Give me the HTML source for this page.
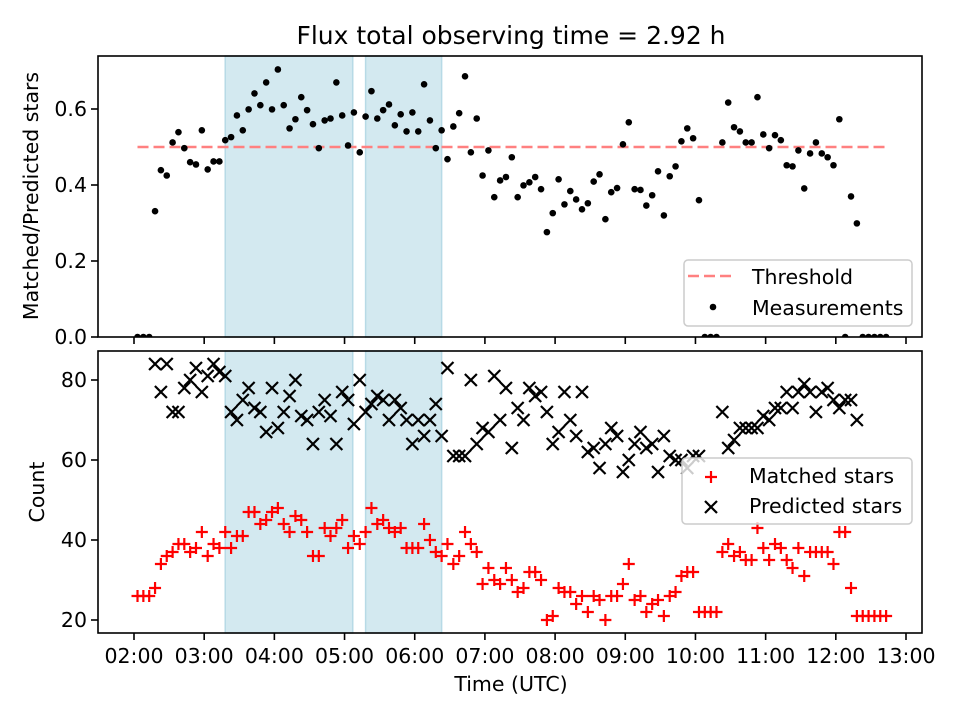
<!DOCTYPE html>
<html><head><meta charset="utf-8">
<style>
html,body{margin:0;padding:0;background:#fff;}
svg{display:block;font-family:"DejaVu Sans","Liberation Sans",sans-serif;}
</style></head>
<body>
<svg id="chart" width="960" height="720" viewBox="0 0 960 720" xmlns="http://www.w3.org/2000/svg">
<rect width="960" height="720" fill="#fff"/>
<text x="511" y="44" font-size="25" text-anchor="middle" fill="#000">Flux total observing time = 2.92 h</text>
<g id="top"></g>
<g id="bot"></g>
<text transform="translate(38,196) rotate(-90)" font-size="20.5" text-anchor="middle">Matched/Predicted stars</text>
<text transform="translate(44,492) rotate(-90)" font-size="20.5" text-anchor="middle">Count</text>
<text x="511" y="691" font-size="20.5" text-anchor="middle">Time (UTC)</text>
</svg>
<script>
const times = [123,128,133,138,143,148,153,158,163,168,173,178,183,188,193,198,203,208,213,218,223,228,233,238,243,248,253,258,263,268,273,278,283,288,293,298,303,308,313,318,323,328,333,338,343,348,353,358,363,368,373,378,383,388,393,398,403,408,413,418,423,428,433,438,443,448,453,458,463,468,473,478,483,488,493,498,503,508,513,518,523,528,533,538,543,548,553,558,563,568,573,578,583,588,593,598,603,608,613,618,623,628,633,638,643,648,653,658,663,668,673,678,683,688,693,698,703,708,713,718,723,728,733,738,743,748,753,758,763];
const ratios = [0,0,0,0.331,0.439,0.425,0.512,0.539,0.497,0.460,0.454,0.544,0.441,0.462,0.462,0.518,0.526,0.583,0.544,0.599,0.641,0.610,0.670,0.599,0.704,0.610,0.549,0.573,0.631,0.597,0.560,0.497,0.570,0.575,0.670,0.583,0.504,0.591,0.486,0.580,0.647,0.575,0.597,0.612,0.557,0.586,0.541,0.591,0.541,0.665,0.570,0.497,0.544,0.468,0.554,0.589,0.686,0.486,0.575,0.425,0.491,0.368,0.412,0.421,0.473,0.368,0.399,0.407,0.421,0.389,0.276,0.326,0.415,0.349,0.384,0.362,0.336,0.352,0.409,0.428,0.310,0.381,0.392,0.507,0.565,0.389,0.387,0.346,0.373,0.436,0.320,0.423,0.449,0.515,0.549,0.523,0.360,0,0,0,0.512,0.617,0.552,0.541,0.512,0.512,0.631,0.533,0.497,0.531,0.518,0.452,0.449,0.491,0.391,0.483,0.512,0.483,0.473,0.452,0.573,0,0.370,0.299,0,0,0,0,0];
const matched = [26,26,26,28,34,36,37,39,39,37,38,42,36,39,38,42,38,41,41,47,47,44,45,47,48,44,42,46,45,42,36,36,43,41,43,45,38,41,39,42,48,44,45,43,42,43,38,38,38,44,40,37,36,39,34,36,42,39,37,29,33,30,29,33,30,27,28,32,32,30,20,21,28,27,27,24,26,22,26,25,20,26,26,29,34,25,26,22,24,25,21,26,27,31,32,32,22,22,22,22,37,39,36,37,35,35,43,38,35,39,38,35,33,38,31,37,37,37,37,34,42,42,28,21,21,21,21,21,21];
const predicted = [null,null,null,84,77,84,72,72,78,80,83,77,81,84,82,81,72,70,75,78,73,72,67,78,68,72,76,80,71,70,64,72,75,71,64,77,75,69,80,72,74,76,75,70,75,73,70,64,70,66,70,74,66,83,61,61,61,80,64,68,67,81,70,78,63,73,70,78,76,77,72,64,67,77,70,66,77,62,63,58,64,68,66,57,60,64,67,63,64,57,66,61,60,60,58,61,61,null,null,null,72,63,65,68,68,68,68,71,70,73,73,77,73,77,79,77,72,77,78,75,73,75,75,70,null,null,null,null,null];
const spans = [[198,307],[318,383]];
const threshold = 0.5;
const xTickLabels = ["02:00","03:00","04:00","05:00","06:00","07:00","08:00","09:00","10:00","11:00","12:00","13:00"];
const xTickMins = [120,180,240,300,360,420,480,540,600,660,720,780];
const ratioTicks = [0.0,0.2,0.4,0.6];
const countTicks = [20,40,60,80];

const NS="http://www.w3.org/2000/svg";
const L=98,R=922;
const TT=56,TB=337,BT=351,BB=633;
function xS(m){return 134+(m-120)*772/660;}
function yT(v){return 337-v*380;}
function yB(c){return 620-(c-20)*4;}
function mk(parent,tag,attrs){const e=document.createElementNS(NS,tag);for(const k in attrs)e.setAttribute(k,attrs[k]);parent.appendChild(e);return e;}

function panel(g,top,bot,isTop){
  const clipId=isTop?'clipT':'clipB';
  const cp=mk(g,'clipPath',{id:clipId});mk(cp,'rect',{x:L,y:top,width:R-L,height:bot-top});
  spans.forEach((s,i)=>{
    const r=mk(g,'rect',{x:xS(s[0]),y:top,width:xS(s[1])-xS(s[0]),height:bot-top,fill:'#d3e9f0',stroke:'#b7dae6','stroke-width':1.5});
    
    
  });
  xTickMins.forEach((m,i)=>{
    const t=mk(g,'line',{x1:xS(m),x2:xS(m),y1:bot,y2:bot+7,stroke:'#000','stroke-width':1.6});
    
    
    if(!isTop){
      const tx=mk(g,'text',{x:xS(m),y:bot+30,'font-size':20.5,'text-anchor':'middle'});
      tx.textContent=xTickLabels[i];
      
      
    }
  });
  const ticks=isTop?ratioTicks:countTicks;
  ticks.forEach(v=>{
    const y=isTop?yT(v):yB(v);
    const t=mk(g,'line',{x1:L-7,x2:L,y1:y,y2:y,stroke:'#000','stroke-width':1.6});
    
    
    const tx=mk(g,'text',{x:L-11,y:y+7,'font-size':20.5,'text-anchor':'end'});
    tx.textContent=isTop?v.toFixed(1):String(v);
    
    
  });
  return clipId;
}

const gT=document.getElementById('top');
const cT=panel(gT,TT,TB,true);
const th=mk(gT,'line',{x1:xS(times[0]),x2:xS(times[times.length-1]),y1:yT(threshold),y2:yT(threshold),stroke:'rgb(255,128,128)','stroke-width':2.5,'stroke-dasharray':'11,5'});


const dotsG=mk(gT,'g',{'clip-path':'url(#'+cT+')'});
times.forEach((m,i)=>{
  const d=mk(dotsG,'circle',{cx:xS(m),cy:yT(ratios[i]),r:3.3,fill:'#000'});
  
  
});
const f1=mk(gT,'rect',{x:L,y:TT,width:R-L,height:TB-TT,fill:'none',stroke:'#000','stroke-width':1.6});


const lg1=mk(gT,'g',{});


mk(lg1,'rect',{x:684,y:260,width:228,height:66,rx:4,fill:'rgba(255,255,255,0.8)',stroke:'#ccc','stroke-width':1.5});
mk(lg1,'line',{x1:688,x2:732,y1:276,y2:276,stroke:'rgb(255,128,128)','stroke-width':2.5,'stroke-dasharray':'11,5'});
const lt1=mk(lg1,'text',{x:752,y:284,'font-size':20.5});lt1.textContent='Threshold';
mk(lg1,'circle',{cx:713,cy:307,r:3.3,fill:'#000'});
const lt2=mk(lg1,'text',{x:752,y:315,'font-size':20.5});lt2.textContent='Measurements';

const gB=document.getElementById('bot');
const cB=panel(gB,BT,BB,false);
const mG=mk(gB,'g',{'clip-path':'url(#'+cB+')'});
function plus(p,x,y,col){mk(p,'path',{d:`M${x-6},${y}H${x+6}M${x},${y-6}V${y+6}`,stroke:col,'stroke-width':2.2,fill:'none'});}
function cross(p,x,y,col){mk(p,'path',{d:`M${x-6},${y-6}L${x+6},${y+6}M${x-6},${y+6}L${x+6},${y-6}`,stroke:col,'stroke-width':2.2,fill:'none'});}
times.forEach((m,i)=>{
  const g1=mk(mG,'g',{});
  
  
  plus(g1,xS(m),yB(matched[i]),'#f00');
});
times.forEach((m,i)=>{
  if(predicted[i]===null)return;
  const g2=mk(mG,'g',{});
  
  
  cross(g2,xS(m),yB(predicted[i]),'#000');
});
const f2=mk(gB,'rect',{x:L,y:BT,width:R-L,height:BB-BT,fill:'none',stroke:'#000','stroke-width':1.6});


const lg2=mk(gB,'g',{});


mk(lg2,'rect',{x:682,y:458,width:230,height:66,rx:4,fill:'rgba(255,255,255,0.8)',stroke:'#ccc','stroke-width':1.5});
plus(lg2,711,477,'#f00');
const lt3=mk(lg2,'text',{x:749,y:483,'font-size':20.5});lt3.textContent='Matched stars';
cross(lg2,711,507,'#000');
const lt4=mk(lg2,'text',{x:749,y:513,'font-size':20.5});lt4.textContent='Predicted stars';
</script>
</body></html>
